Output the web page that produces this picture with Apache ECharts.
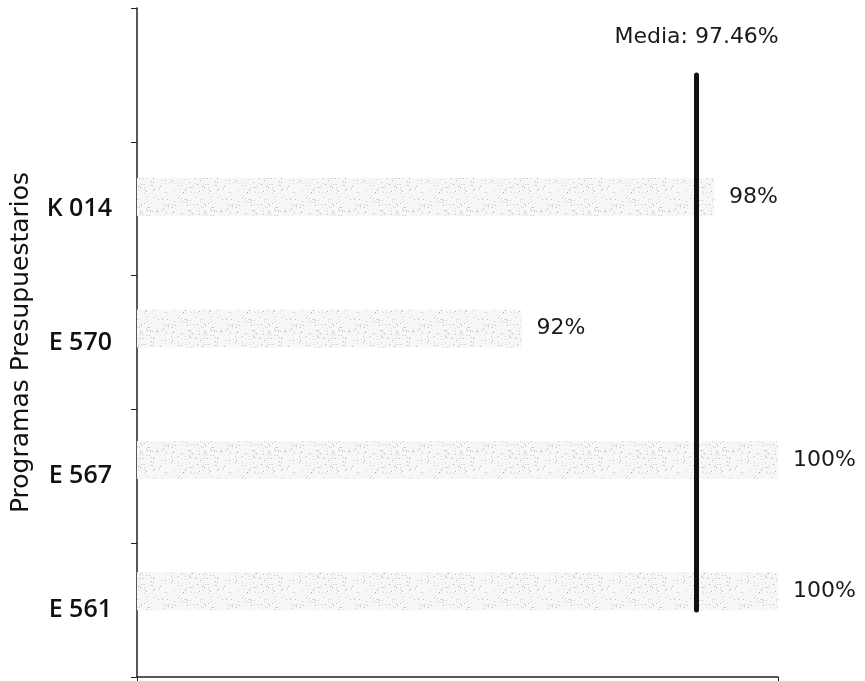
<!DOCTYPE html>
<html>
<head>
<meta charset="utf-8">
<script src="https://cdn.jsdelivr.net/npm/echarts@6/dist/echarts.min.js"></script>
<style>
  html, body { margin: 0; padding: 0; background: #fff; }
  #chart { width: 865px; height: 681px; }
</style>
</head>
<body>
<div id="chart"></div>
<script>
// Programs, bottom to top; the top slot holds the average marker
const programas = ['E 561', 'E 567', 'E 570', 'K 014', ''];
const cumplimiento = [100, 100, 92, 98];
const media = 97.46;
const ejeMin = 80;
const ejeMax = 100;

// stippled light-grey fill for the bars
function stipple() {
  const c = document.createElement('canvas');
  c.width = 64; c.height = 40;
  const g = c.getContext('2d');
  g.fillStyle = '#f7f7f7';
  g.fillRect(0, 0, c.width, c.height);
  let s = 12345;
  const next = () => { s = (s * 1103515245 + 12345) & 0x7fffffff; return s / 0x7fffffff; };
  for (let y = 0; y < c.height; y++) {
    for (let x = 0; x < c.width; x++) {
      if (next() < 0.07) {
        const v = Math.round(175 + next() * 55);
        g.fillStyle = 'rgb(' + v + ',' + v + ',' + v + ')';
        g.fillRect(x, y, 1, 1);
      }
    }
  }
  return c;
}

const chart = echarts.init(document.getElementById('chart'), null, { renderer: 'canvas' });

const sansLabel = '"DejaVu Sans", sans-serif';

chart.setOption({
  animation: false,
  grid: [
    { left: 137, right: 87, top: 8, bottom: 4 },
    { left: 137, right: 87, top: -12, bottom: 24 }
  ],
  xAxis: [
    {
      gridIndex: 0, type: 'value', min: ejeMin, max: ejeMax, interval: 20,
      axisLine: { show: true, lineStyle: { color: '#222', width: 1.5 } },
      axisTick: { show: true, length: 6, lineStyle: { color: '#222' } },
      axisLabel: { show: false },
      splitLine: { show: false }
    },
    {
      gridIndex: 1, type: 'value', min: ejeMin, max: ejeMax,
      show: false, splitLine: { show: false }
    }
  ],
  yAxis: [
    {
      gridIndex: 0, type: 'category', data: programas,
      axisLine: { show: true, lineStyle: { color: '#222', width: 1.5 } },
      axisTick: { show: true, length: 6, lineStyle: { color: '#222' } },
      axisLabel: {
        margin: 25, color: '#111', fontSize: 25, fontWeight: 600,
        fontFamily: '"Open Sans", sans-serif'
      },
      name: 'Programas Presupuestarios',
      nameLocation: 'middle',
      nameGap: 103,
      nameTextStyle: { color: '#111', fontSize: 25, fontFamily: sansLabel }
    },
    {
      gridIndex: 1, type: 'category', data: programas, show: false
    }
  ],
  series: [
    {
      type: 'bar',
      xAxisIndex: 1, yAxisIndex: 1,
      data: cumplimiento,
      barWidth: 38,
      itemStyle: { color: { image: stipple(), repeat: 'repeat' } },
      label: {
        show: true, position: 'right', distance: 15,
        formatter: p => p.value + '%',
        color: '#1a1a1a', fontSize: 22, fontFamily: sansLabel
      }
    },
    {
      type: 'line',
      xAxisIndex: 0, yAxisIndex: 0,
      data: [],
      markLine: {
        silent: true,
        symbol: 'none',
        lineStyle: { color: '#111', width: 5, type: 'solid', cap: 'round' },
        label: {
          show: true, position: 'end', distance: 27,
          formatter: 'Media: ' + media.toFixed(2) + '%',
          color: '#1a1a1a', fontSize: 22, fontFamily: sansLabel
        },
        data: [[
          { coord: [media, programas[0]] },
          { coord: [media, programas[programas.length - 1]] }
        ]]
      }
    }
  ]
});
</script>
</body>
</html>
